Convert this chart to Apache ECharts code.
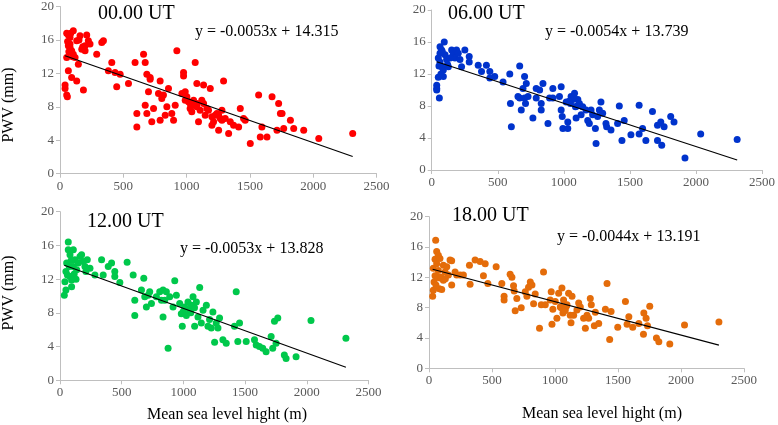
<!DOCTYPE html>
<html><head><meta charset="utf-8">
<script src="https://cdn.jsdelivr.net/npm/echarts@6/dist/echarts.min.js"></script>
<style>html,body{margin:0;padding:0;background:#fff}#c{width:778px;height:425px}</style>
</head><body><div id="c"></div>
<script>
// ---- data ----
const panelTitles = ['00.00 UT', '06.00 UT', '12.00 UT', '18.00 UT'];
const slopes = [-0.0053, -0.0054, -0.0053, -0.0044];
const intercepts = [14.315, 13.739, 13.828, 13.191];
const xTicks = [0, 500, 1000, 1500, 2000, 2500];
const yTicks = [0, 4, 8, 12, 16, 20];
const xAxisTitle = 'Mean sea level hight (m)';
const yAxisTitle = 'PWV (mm)';

const ut00 = [[40,10.6],[40,10.2],[53,9.4],[58,9.2],[53,16.8],[66,16.6],[79,15.5],[66,15.3],[79,15.1],[53,13.9],[92,14.7],[105,17.1],[79,16.3],[66,12.3],[92,11.5],[105,14.3],[119,13.9],[132,15.9],[158,16.5],[145,13.1],[132,11.1],[185,10.0],[172,14.9],[198,15.3],[211,16.6],[224,15.9],[237,15.5],[198,14.7],[290,14.3],[330,15.7],[343,15.9],[409,13.3],[382,12.3],[435,12.1],[448,10.4],[475,11.9],[541,10.8],[593,13.3],[607,7.2],[607,5.6],[660,14.3],[673,13.3],[673,8.2],[686,11.9],[699,9.8],[686,7.2],[712,11.5],[712,11.3],[725,6.2],[739,7.8],[778,9.6],[791,11.1],[804,9.0],[791,6.4],[817,9.4],[831,7.0],[844,8.0],[857,10.2],[883,7.2],[897,6.4],[910,8.2],[923,14.7],[976,12.1],[976,11.7],[963,9.6],[989,9.8],[1002,9.2],[989,8.8],[1015,8.6],[1028,8.4],[1028,7.8],[1041,7.4],[1055,8.8],[1068,13.3],[1081,10.8],[1081,8.0],[1094,6.2],[1107,7.6],[1134,10.6],[1134,8.4],[1147,7.0],[1160,7.8],[1187,10.2],[1200,6.8],[1200,5.8],[1213,6.2],[1226,7.0],[1239,7.2],[1253,5.2],[1266,6.6],[1279,7.6],[1292,11.1],[1305,6.6],[1332,4.8],[1345,6.2],[1371,5.8],[1411,5.6],[1424,7.8],[1450,6.6],[1463,6.4],[1503,3.6],[1569,9.4],[1582,4.4],[1595,5.6],[1635,4.4],[1675,9.2],[1714,5.2],[1727,8.4],[1741,7.2],[1754,7.2],[1767,5.4],[1820,6.4],[1846,5.4],[1925,5.2],[2044,4.2],[2312,4.8],[1081,8.4],[1120,8.8],[1055,8.2],[1173,7.6],[1279,6.4],[1253,7.0],[60,15.8],[70,14.6],[85,16.8],[100,14.0],[150,16.0],[180,15.2]];

const ut06 = [[38,10.6],[38,10.2],[38,10.0],[58,9.0],[50,11.6],[63,15.4],[63,14.6],[75,15.0],[50,14.0],[63,13.5],[75,12.9],[88,12.5],[101,14.4],[88,11.7],[95,16.0],[113,13.8],[126,12.9],[151,15.0],[163,14.4],[176,14.0],[188,15.0],[201,14.6],[214,13.8],[226,12.9],[251,15.0],[284,14.2],[284,13.5],[352,13.1],[377,12.3],[414,13.1],[440,12.3],[440,11.5],[477,11.7],[540,11.0],[591,12.0],[596,8.3],[603,5.4],[653,9.2],[666,13.0],[666,9.0],[678,7.5],[691,10.2],[703,11.7],[703,9.0],[710,8.3],[716,10.8],[729,9.2],[766,6.5],[791,10.2],[791,9.0],[817,10.0],[829,8.3],[829,7.5],[842,10.8],[880,5.8],[892,9.0],[917,10.2],[917,9.0],[967,9.2],[980,10.4],[980,7.5],[988,6.7],[993,5.2],[1018,8.5],[1030,6.0],[1030,5.2],[1055,9.2],[1068,8.8],[1081,9.6],[1088,7.9],[1093,6.5],[1106,8.8],[1118,8.3],[1131,6.9],[1143,7.9],[1168,7.5],[1181,6.2],[1193,5.8],[1206,7.5],[1218,6.9],[1239,5.2],[1244,3.3],[1256,6.7],[1269,7.5],[1281,8.5],[1294,7.1],[1319,5.8],[1324,5.4],[1357,5.0],[1407,5.8],[1420,8.0],[1440,3.7],[1457,6.2],[1508,4.4],[1570,8.1],[1570,4.5],[1596,5.2],[1621,3.7],[1671,7.3],[1709,5.6],[1709,3.7],[1734,6.0],[1741,3.1],[1759,5.4],[1809,6.7],[1834,6.0],[1917,1.5],[2036,4.5],[2312,3.8],[55,13.0],[70,12.0],[80,14.8],[120,13.2],[140,14.0],[1050,8.3],[1075,9.0],[1100,8.0],[1040,8.6]];

const ut12 = [[35,10.1],[48,10.7],[40,11.7],[48,12.9],[67,16.4],[67,15.5],[81,14.9],[54,13.9],[81,12.3],[94,11.1],[94,11.9],[108,13.5],[108,15.5],[121,14.3],[135,13.1],[148,13.9],[162,14.7],[175,14.9],[189,14.1],[202,13.5],[210,12.9],[221,14.3],[243,13.3],[283,12.5],[337,14.3],[350,12.5],[391,13.5],[418,13.9],[444,12.9],[444,12.3],[485,11.6],[544,14.0],[593,12.5],[606,9.5],[606,7.7],[660,10.7],[679,12.1],[687,9.9],[700,8.7],[714,10.1],[727,10.5],[741,9.1],[781,9.9],[808,10.5],[822,9.5],[835,10.7],[835,7.5],[849,9.5],[862,10.5],[876,3.8],[889,9.9],[916,8.7],[930,11.8],[943,10.1],[970,9.1],[983,7.9],[991,6.4],[1010,8.7],[1024,7.7],[1037,9.3],[1051,8.3],[1064,8.9],[1078,9.9],[1091,6.4],[1105,9.3],[1118,7.5],[1132,11.0],[1145,6.8],[1159,8.3],[1186,8.9],[1199,6.4],[1212,7.2],[1226,6.2],[1239,8.1],[1253,4.5],[1266,6.8],[1280,6.2],[1293,7.4],[1320,4.8],[1347,4.4],[1414,6.4],[1428,10.5],[1441,4.6],[1455,6.8],[1509,4.6],[1576,4.8],[1590,4.2],[1616,4.0],[1643,3.8],[1670,3.4],[1711,5.2],[1724,3.8],[1738,7.0],[1751,4.4],[1765,7.4],[1818,3.0],[1832,2.6],[1913,2.8],[2034,7.1],[2317,5.0],[60,12.5],[75,13.5],[90,14.2],[115,12.6],[130,12.0],[1060,8.0],[1090,8.6],[1000,8.2]];

const ut18 = [[29,9.5],[34,10.3],[40,11.4],[48,12.2],[34,13.2],[48,14.4],[53,16.9],[61,15.4],[74,14.9],[61,13.8],[74,12.9],[87,14.5],[87,11.9],[82,10.5],[101,10.4],[114,13.6],[114,11.6],[127,12.7],[141,13.4],[154,12.3],[167,14.3],[180,14.2],[180,11.0],[207,12.7],[220,12.3],[247,12.3],[273,12.3],[321,13.6],[326,11.1],[366,14.3],[406,14.1],[432,12.2],[446,13.8],[467,11.2],[533,13.4],[578,11.2],[596,9.5],[596,9.0],[644,12.4],[658,12.0],[671,10.9],[676,10.2],[684,7.6],[697,9.2],[732,8.0],[764,10.1],[777,9.5],[790,10.7],[804,11.4],[817,11.0],[830,8.5],[843,9.8],[877,5.3],[891,8.4],[909,12.7],[923,8.4],[962,9.0],[970,10.1],[976,5.8],[983,7.8],[1002,8.8],[1015,6.6],[1029,9.9],[1042,8.1],[1055,10.6],[1063,7.3],[1068,9.0],[1082,7.7],[1090,8.2],[1108,9.9],[1121,7.0],[1127,6.0],[1135,9.5],[1148,7.0],[1174,7.7],[1188,8.6],[1201,8.1],[1227,6.6],[1241,5.3],[1254,7.0],[1267,6.6],[1280,9.2],[1288,8.4],[1312,5.6],[1320,7.4],[1347,5.9],[1400,7.8],[1413,11.2],[1434,3.8],[1445,7.5],[1498,5.4],[1559,8.8],[1572,5.8],[1586,6.8],[1617,5.4],[1665,5.9],[1705,7.3],[1702,4.5],[1723,6.6],[1734,5.6],[1752,8.2],[1805,4.0],[1824,3.5],[1911,3.2],[2028,5.7],[2301,6.1],[55,11.0],[68,12.0],[95,12.0],[130,11.8],[1050,8.0],[1075,7.6],[1095,8.4]];

const seriesData = [ut00, ut06, ut12, ut18];
const colors = ['#ff0000', '#0033cc', '#00c84b', '#e46c0a'];

// ---- layout ----
const grids = [
  {left: 60, top: 5.7, width: 316.5, height: 168},
  {left: 431.7, top: 10, width: 333, height: 160},
  {left: 60, top: 211.7, width: 308.5, height: 168.6},
  {left: 429, top: 216.7, width: 315, height: 151.6}
];
const titlePos = [[98, 15], [448, 15], [87, 223], [452, 217]];
const eqPos = [[195, 33], [545, 33], [180, 250], [557, 238]];
const font = '"Liberation Serif", "Times New Roman", serif';

function fmtEq(s, b) {
  return 'y = ' + s.toFixed(4) + 'x + ' + b.toFixed(3);
}

const labelStyle = {fontFamily: font, fontSize: 13, color: '#595959', margin: 6, formatter: v => String(v)};

const option = {
  animation: false,
  backgroundColor: '#fff',
  grid: grids.map(g => Object.assign({containLabel: false}, g)),
  xAxis: grids.map((g, i) => ({
    gridIndex: i, type: 'value', min: xTicks[0], max: xTicks[xTicks.length - 1], interval: xTicks[1] - xTicks[0],
    axisLine: {show: true, lineStyle: {color: '#bfbfbf', width: 1}},
    axisTick: {show: true, length: 4, lineStyle: {color: '#bfbfbf'}},
    splitLine: {show: false},
    axisLabel: labelStyle
  })),
  yAxis: grids.map((g, i) => ({
    gridIndex: i, type: 'value', min: yTicks[0], max: yTicks[yTicks.length - 1], interval: yTicks[1] - yTicks[0],
    axisLine: {show: true, lineStyle: {color: '#bfbfbf', width: 1}},
    axisTick: {show: true, length: 4, lineStyle: {color: '#bfbfbf'}},
    splitLine: {show: false},
    axisLabel: labelStyle
  })),
  series: [],
  graphic: []
};

seriesData.forEach((d, i) => {
  option.series.push({
    type: 'scatter', xAxisIndex: i, yAxisIndex: i, data: d,
    symbolSize: 7, itemStyle: {color: colors[i], opacity: 1}
  });
  const xs = d.map(p => p[0]);
  const x0 = Math.min(...xs), x1 = Math.max(...xs);
  option.series.push({
    type: 'line', xAxisIndex: i, yAxisIndex: i, symbol: 'none', z: 5,
    data: [[x0, slopes[i] * x0 + intercepts[i]], [x1, slopes[i] * x1 + intercepts[i]]],
    lineStyle: {color: '#000', width: 1.2}
  });
  option.graphic.push({
    type: 'text', left: titlePos[i][0], top: titlePos[i][1] - 11,
    style: {text: panelTitles[i], font: '20px ' + font, fill: '#000'}
  });
  option.graphic.push({
    type: 'text', left: eqPos[i][0], top: eqPos[i][1] - 9,
    style: {text: fmtEq(slopes[i], intercepts[i]), font: '16px ' + font, fill: '#000'}
  });
});

// axis titles
[[9, 105], [9, 293]].forEach(p => {
  option.graphic.push({
    type: 'text', x: p[0], y: p[1], rotation: Math.PI / 2,
    style: {text: yAxisTitle, font: '16px ' + font, fill: '#000', textAlign: 'center', textVerticalAlign: 'middle'}
  });
});
[[227, 415], [602, 414]].forEach(p => {
  option.graphic.push({
    type: 'text', x: p[0], y: p[1],
    style: {text: xAxisTitle, font: '16px ' + font, fill: '#000', textAlign: 'center', textVerticalAlign: 'middle'}
  });
});

const chart = echarts.init(document.getElementById('c'), null, {renderer: 'canvas'});
chart.setOption(option);
</script>
</body></html>
